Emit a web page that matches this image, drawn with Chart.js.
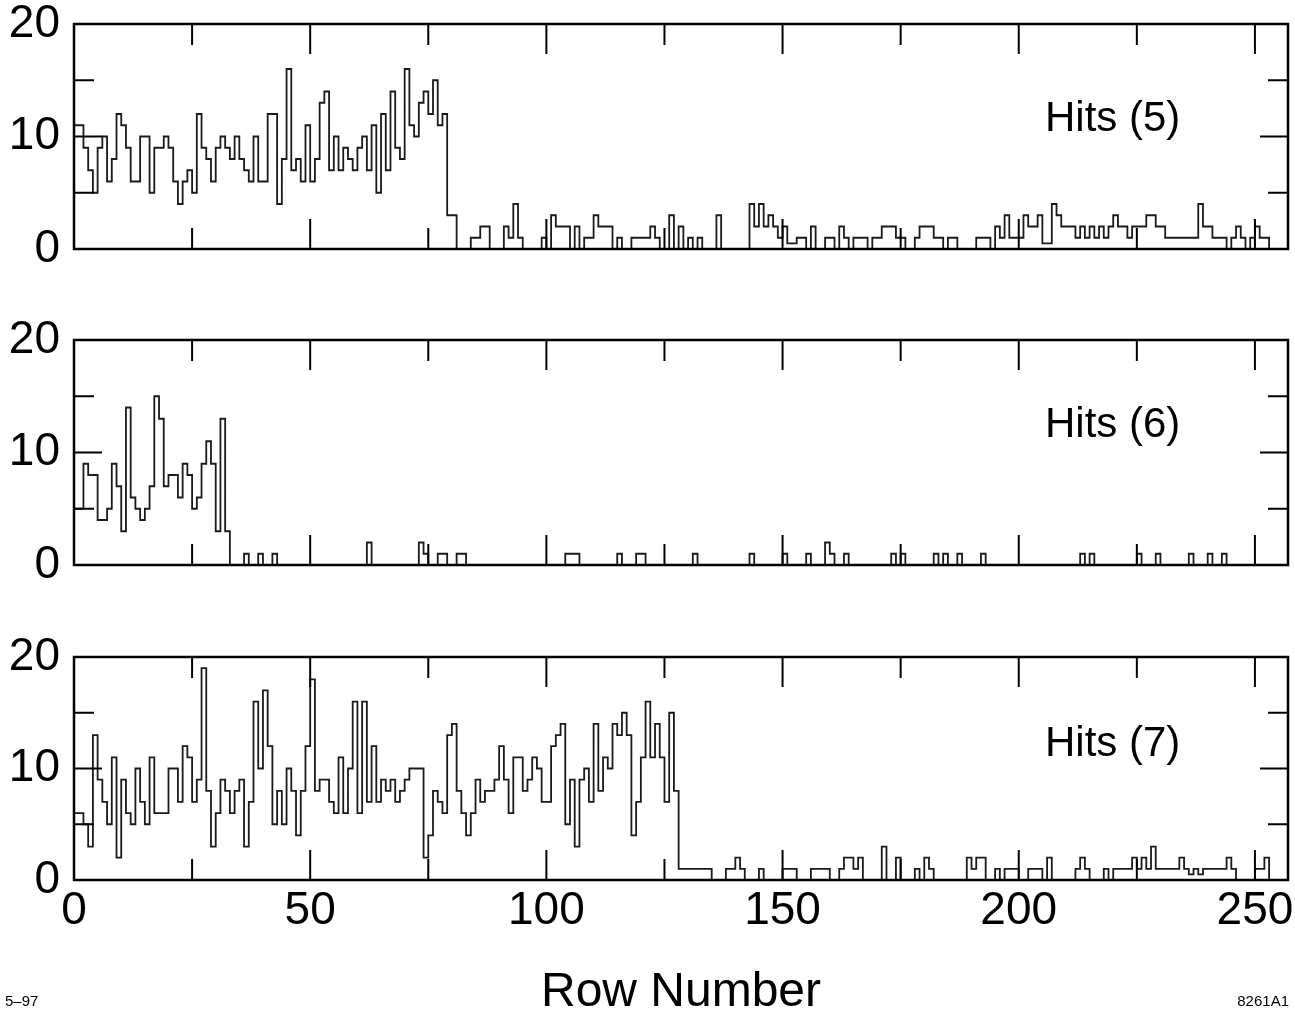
<!DOCTYPE html>
<html>
<head>
<meta charset="utf-8">
<title>Hits per row</title>
<script src="https://cdn.jsdelivr.net/npm/chart.js@4.4.1/dist/chart.umd.min.js"></script>
<style>
  html, body { margin: 0; padding: 0; background: #fff; }
  #page { position: relative; width: 1295px; height: 1012px; overflow: hidden;
          font-family: "Liberation Sans", Arial, Helvetica, sans-serif; color: #000; }
  .panel { position: absolute; left: 0; width: 1295px; }
  .hits { position: absolute; left: 1045px; font-size: 42px; line-height: 1; white-space: nowrap; }
  .note { position: absolute; font-size: 15px; line-height: 1; }
</style>
</head>
<body>
<div id="page">
  <div class="panel" style="top:0;height:295px"><canvas id="chart5"></canvas></div>
  <div class="panel" style="top:295px;height:305px"><canvas id="chart6"></canvas></div>
  <div class="panel" style="top:600px;height:412px"><canvas id="chart7"></canvas></div>
  <div class="hits" style="top:96px">Hits (5)</div>
  <div class="hits" style="top:402px">Hits (6)</div>
  <div class="hits" style="top:721px">Hits (7)</div>
  <div class="note" style="left:5px;top:993px">5–97</div>
  <div class="note" style="right:6px;top:993px">8261A1</div>
</div>
<script>
// hits per row, one value per row number (bins 0..255)
const hits5 = [
  11,11,9,7,5,9,10,6,8,12,11,9,6,6,10,10,5,9,9,10,
  9,6,4,6,7,5,12,9,8,6,9,10,9,8,10,8,7,6,10,6,
  6,12,12,4,8,16,7,8,6,11,6,8,13,14,7,10,7,9,8,7,
  9,10,7,11,5,12,7,14,9,8,16,11,10,13,14,12,15,11,12,3,
  3,0,0,0,1,1,2,2,0,0,0,2,1,4,1,0,0,0,0,1,
  0,3,2,2,2,0,2,0,1,1,3,2,2,2,0,1,0,0,1,1,
  1,1,2,1,0,0,3,0,2,0,1,0,1,0,0,0,3,0,0,0,
  0,0,0,4,2,4,2,3,2,1,2,0.5,0.5,1,1,0,2,0,0,1,
  1,0,2,1,0,1,1,1,0,1,1,2,2,2,1,1,0,0,1,2,
  2,2,1,1,0,1,1,0,0,0,0,1,1,1,0,2,1,3,1,1,
  1,3,2,2,3,0.5,0.5,4,3,2,2,2,1,2,1,2,1,2,1,2,
  3,2,2,1,2,2,2,3,3,2,2,1,1,1,1,1,1,1,4,2,
  2,1,1,1,0,1,2,1,0,1,2,1,1,0,0,0
];
const hits6 = [
  5,5,9,8,8,4,4,5,9,7,3,14,6,5,4,5,7,15,13,7,
  8,8,6,9,8,5,6,9,11,9,3,13,3,0,0,0,1,0,0,1,
  0,0,1,0,0,0,0,0,0,0,0,0,0,0,0,0,0,0,0,0,
  0,0,2,0,0,0,0,0,0,0,0,0,0,2,1,0,0,1,1,0,
  0,1,1,0,0,0,0,0,0,0,0,0,0,0,0,0,0,0,0,0,
  0,0,0,0,1,1,1,0,0,0,0,0,0,0,0,1,0,0,0,1,
  1,0,0,0,0,0,0,0,0,0,0,1,0,0,0,0,0,0,0,0,
  0,0,0,1,0,0,0,0,0,0,1,0,0,0,0,1,0,0,0,2,
  1,0,0,1,0,0,0,0,0,0,0,0,0,1,0,1,0,0,0,0,
  0,0,1,0,1,0,0,1,0,0,0,0,1,0,0,0,0,0,0,0,
  0,0,0,0,0,0,0,0,0,0,0,0,0,1,0,1,0,0,0,0,
  0,0,0,0,0,1,0,0,0,1,0,0,0,0,0,0,1,0,0,0,
  1,0,0,1,0,0,0,0,0,0,0,0,0,0,0,0
];
const hits7 = [
  6,6,5,3,13,9,7,5,11,2,9,6,5,10,7,5,11,6,6,6,
  10,10,7,12,11,7,9,19,8,3,6,9,8,6,8,9,3,7,16,10,
  17,12,5,8,5,10,8,4,8,12,18,8,9,9,7,6,11,6,10,16,
  6,16,7,12,7,9,8,9,7,8,9,10,10,10,2,4,8,7,6,13,
  14,8,6,4,6,9,7,8,8,9,12,9,6,11,11,8,9,11,10,7,
  7,12,13,14,5,9,3,9,10,7,14,8,11,10,14,13,15,13,4,7,
  11,16,11,14,11,7,15,8,1,1,1,1,1,1,1,0,0,0,1,1,
  2,1,0,0,0,1,0,0,0,0,1,1,1,0,0,0,1,1,1,1,
  0,0,1,2,2,1,2,0,0,0,0,3,0,0,2,0,0,0,1,0,
  2,1,0,0,0,0,0,0,0,2,1,2,2,0,0,1,0,1,1,1,
  0,0,1,1,1,0,2,0,0,0,0,0,1,2,1,0,0,0,1,0,
  1,1,1,1,2,1,2,1,3,1,1,1,1,1,2,1,0.5,1,0.5,1,
  1,1,1,1,2,1,0,0,0,0,1,1,2,0,0,0
];

const xLabels = [0, 50, 100, 150, 200, 250];
const yLabels = [0, 10, 20];
const xMarks = [25, 50, 75, 100, 125, 150, 175, 200, 225, 250];
const yMarks = [5, 10, 15];
const xMax = 257;
const yMax = 20;

const FONT = '"Liberation Sans", Arial, Helvetica, sans-serif';

// frame + inward tick marks, drawn from the chart's own scales
const frameTicks = {
  id: 'frameTicks',
  afterDatasetsDraw(chart) {
    const { ctx, chartArea: a, scales: { x, y } } = chart;
    const seg = (x1, y1, x2, y2) => { ctx.beginPath(); ctx.moveTo(x1, y1); ctx.lineTo(x2, y2); ctx.stroke(); };
    ctx.save();
    ctx.strokeStyle = '#000';
    ctx.lineWidth = 2;
    xMarks.forEach(v => {
      const px = x.getPixelForValue(v);
      const len = v % 50 === 0 ? 30 : 21;
      seg(px, a.top, px, a.top + len);
      seg(px, a.bottom, px, a.bottom - len);
    });
    yMarks.forEach(v => {
      const py = y.getPixelForValue(v);
      const len = v % 10 === 0 ? 28 : 20;
      seg(a.left, py, a.left + len, py);
      seg(a.right, py, a.right - len, py);
    });
    ctx.lineWidth = 2.5;
    ctx.strokeRect(a.left, a.top, a.right - a.left, a.bottom - a.top);
    ctx.restore();
  }
};

function toSteps(values) {
  const pts = values.map((v, i) => ({ x: i, y: v }));
  pts.push({ x: values.length, y: 0 });
  return pts;
}

function makePanel(id, values, padTop, axisHeight, showX) {
  return new Chart(document.getElementById(id), {
    type: 'line',
    data: {
      datasets: [{
        data: toSteps(values),
        stepped: true,
        borderColor: '#1a1a1a',
        borderWidth: 1.8,
        borderJoinStyle: 'miter',
        pointRadius: 0,
        fill: false
      }]
    },
    options: {
      responsive: true,
      maintainAspectRatio: false,
      animation: false,
      layout: { padding: { top: padTop, right: 7, left: 0, bottom: 0 } },
      plugins: { legend: { display: false }, tooltip: { enabled: false } },
      scales: {
        x: {
          type: 'linear', min: 0, max: xMax,
          grid: { display: false, drawTicks: false },
          border: { display: false },
          afterBuildTicks: s => { s.ticks = xLabels.map(v => ({ value: v })); },
          afterFit: s => { s.height = axisHeight; s.paddingLeft = 0; s.paddingRight = 0; },
          ticks: { display: showX, autoSkip: false, maxRotation: 0, padding: 4,
                   color: '#000', font: { family: FONT, size: 46 } },
          title: { display: showX, text: 'Row Number', color: '#000',
                   font: { family: FONT, size: 48, lineHeight: 1 }, padding: { top: 0, bottom: -5 } }
        },
        y: {
          min: 0, max: yMax,
          grid: { display: false, drawTicks: false },
          border: { display: false },
          afterBuildTicks: s => { s.ticks = yLabels.map(v => ({ value: v })); },
          afterFit: s => { s.width = 74; s.paddingTop = 0; s.paddingBottom = 0; },
          ticks: { padding: 14, color: '#000', font: { family: FONT, size: 46 } }
        }
      }
    },
    plugins: [frameTicks]
  });
}

let chart5 = makePanel('chart5', hits5, 24, 295 - 249, false);
let chart6 = makePanel('chart6', hits6, 45, 600 - 565, false);
let chart7 = makePanel('chart7', hits7, 57, 1012 - 880, true);
</script>
</body>
</html>
